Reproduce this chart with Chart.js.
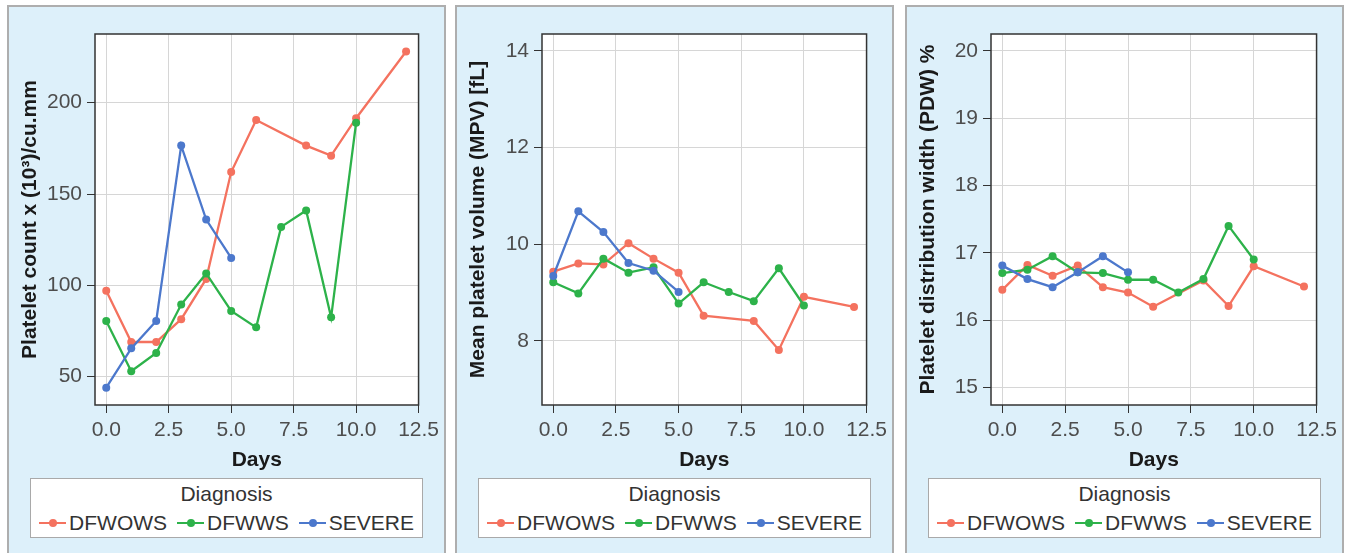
<!DOCTYPE html>
<html>
<head>
<meta charset="utf-8">
<script src="https://cdn.jsdelivr.net/npm/chart.js@4"></script>
<style>
body { margin: 0; background: #fff; font-family: "Liberation Sans", Arial, sans-serif; }
.panel { position: absolute; top: 5px; width: 439px; height: 560px; box-sizing: border-box; border: 2px solid #aeaeae; background: #ddf0fa; }
.panel canvas { position: absolute; left: 0; top: 0; }
.legend { position: absolute; left: 21px; top: 471px; width: 393px; height: 60px; box-sizing: border-box; border: 1.5px solid #a9a9a9; background: #fff; color: #333; font-size: 21px; }
.legend .ttl { position: absolute; left: 0; right: 0; top: 2px; text-align: center; line-height: 25px; }
.legend .row { position: absolute; left: 0; right: 0; top: 31px; display: flex; justify-content: center; line-height: 25px; }
.item { display: flex; margin: 0 5px; }
.mk { display: inline-block; width: 27px; height: 2px; position: relative; margin-right: 3px; align-self: center; }
.mk i { position: absolute; left: 10px; top: -3px; width: 8px; height: 8px; border-radius: 50%; background: inherit; }
</style>
</head>
<body>
<div class="panel" id="p0" style="left:7px"><canvas id="c0" width="435" height="546"></canvas><div class="legend" id="l0"></div></div>
<div class="panel" id="p1" style="left:455px"><canvas id="c1" width="435" height="546"></canvas><div class="legend" id="l1"></div></div>
<div class="panel" id="p2" style="left:905px"><canvas id="c2" width="435" height="546"></canvas><div class="legend" id="l2"></div></div>
<script>
const xTicks = [0, 2.5, 5, 7.5, 10, 12.5]
const seriesNames = ['DFWOWS', 'DFWWS', 'SEVERE']
const seriesColors = ['#f4725f', '#2db24a', '#4c78cc']

const daysDfwows = [0, 1, 2, 3, 4, 5, 6, 8, 9, 10, 12]
const daysDfwws = [0, 1, 2, 3, 4, 5, 6, 7, 8, 9, 10]
const daysSevere = [0, 1, 2, 3, 4, 5]

const countDfwows = [97, 69, 69, 81.5, 103.5, 162, 190.5, 176.5, 171, 191.5, 228]
const countDfwws = [80.5, 53, 63, 89.5, 106.5, 86, 77, 132, 141, 82.5, 189]
const countSevere = [44, 65.5, 80.5, 176.5, 136, 115]
const countTicks = [50, 100, 150, 200]

const mpvDfwows = [9.43, 9.6, 9.58, 10.02, 9.7, 9.41, 8.52, 8.41, 7.81, 8.91, 8.7]
const mpvDfwws = [9.21, 8.98, 9.7, 9.41, 9.52, 8.77, 9.21, 9.01, 8.82, 9.5, 8.73]
const mpvSevere = [9.34, 10.68, 10.25, 9.61, 9.45, 9.01]
const mpvTicks = [8, 10, 12, 14]

const pdwDfwows = [16.45, 16.82, 16.66, 16.81, 16.49, 16.41, 16.2, 16.59, 16.21, 16.8, 16.5]
const pdwDfwws = [16.7, 16.75, 16.95, 16.71, 16.7, 16.6, 16.6, 16.41, 16.61, 17.4, 16.9]
const pdwSevere = [16.81, 16.61, 16.49, 16.71, 16.95, 16.71]
const pdwTicks = [15, 16, 17, 18, 19, 20]

const seriesDays = [daysDfwows, daysDfwws, daysSevere]

// white plot area with a dark frame around it
const frame = {
    id: 'frame',
    beforeDraw(chart) {
        const a = chart.chartArea
        chart.ctx.save()
        chart.ctx.fillStyle = '#fff'
        chart.ctx.fillRect(a.left, a.top, a.right - a.left, a.bottom - a.top)
        chart.ctx.restore()
    },
    afterDraw(chart) {
        const a = chart.chartArea
        const ctx = chart.ctx
        ctx.save()
        ctx.strokeStyle = '#333'
        ctx.lineWidth = 1.5
        ctx.strokeRect(a.left, a.top, a.right - a.left, a.bottom - a.top)
        ctx.restore()
    }
}

function pairs(days, vals) {
    return days.map((d, i) => ({ x: d, y: vals[i] }))
}

function makeChart(n, yTitle, yMin, yMax, yTicks, series, plotLeft) {
    const datasets = series.map((vals, i) => ({
        label: seriesNames[i],
        data: pairs(seriesDays[i], vals),
        borderColor: seriesColors[i],
        backgroundColor: seriesColors[i],
        borderWidth: 2.3,
        pointRadius: 4,
        pointBorderWidth: 0,
        order: 3 - i
    }))
    new Chart(document.querySelector('#c' + n), {
        type: 'line',
        data: { datasets },
        plugins: [frame],
        options: {
            responsive: false,
            animation: false,
            devicePixelRatio: 1,
            layout: { padding: { left: 0, top: 27, right: 435 - plotLeft - 331, bottom: 73 } },
            plugins: { legend: { display: false }, tooltip: { enabled: false } },
            scales: {
                x: {
                    type: 'linear',
                    min: -0.45,
                    max: 12.5,
                    afterBuildTicks: s => { s.ticks = xTicks.map(v => ({ value: v })) },
                    afterFit: s => { s.height = 75 },
                    border: { display: false },
                    grid: { color: '#d6d6d6', tickColor: '#333', tickLength: 8 },
                    ticks: { padding: 5, color: '#4d4d4d', font: { family: 'Liberation Sans', size: 21 }, callback: v => v.toFixed(1) },
                    title: { display: true, text: 'Days', color: '#1a1a1a', padding: { top: 0, bottom: 7 }, font: { family: 'Liberation Sans', size: 21, weight: 'bold' } }
                },
                y: {
                    min: yMin,
                    max: yMax,
                    afterBuildTicks: s => { s.ticks = yTicks.map(v => ({ value: v })) },
                    afterFit: s => { s.width = plotLeft },
                    border: { display: false },
                    grid: { color: '#d6d6d6', tickColor: '#333', tickLength: 8 },
                    ticks: { padding: 5, color: '#4d4d4d', font: { family: 'Liberation Sans', size: 21 } },
                    title: { display: true, text: yTitle, color: '#1a1a1a', padding: { top: 9, bottom: 0 }, font: { family: 'Liberation Sans', size: 21, weight: 'bold' } }
                }
            }
        }
    })

    const leg = document.querySelector('#l' + n)
    let html = '<div class="ttl">Diagnosis</div><div class="row">'
    seriesNames.forEach((name, i) => {
        html += '<span class="item"><span class="mk" style="background:' + seriesColors[i] + '"><i></i></span>' + name + '</span>'
    })
    leg.innerHTML = html + '</div>'
}

makeChart(0, 'Platelet count x (10\u00b3)/cu.mm', 34.5, 237.6, countTicks, [countDfwows, countDfwws, countSevere], 86)
makeChart(1, 'Mean platelet volume (MPV) [fL]', 6.67, 14.35, mpvTicks, [mpvDfwows, mpvDfwws, mpvSevere], 85)
makeChart(2, 'Platelet distribution width (PDW) %', 14.74, 20.25, pdwTicks, [pdwDfwows, pdwDfwws, pdwSevere], 84)
</script>
</body>
</html>
